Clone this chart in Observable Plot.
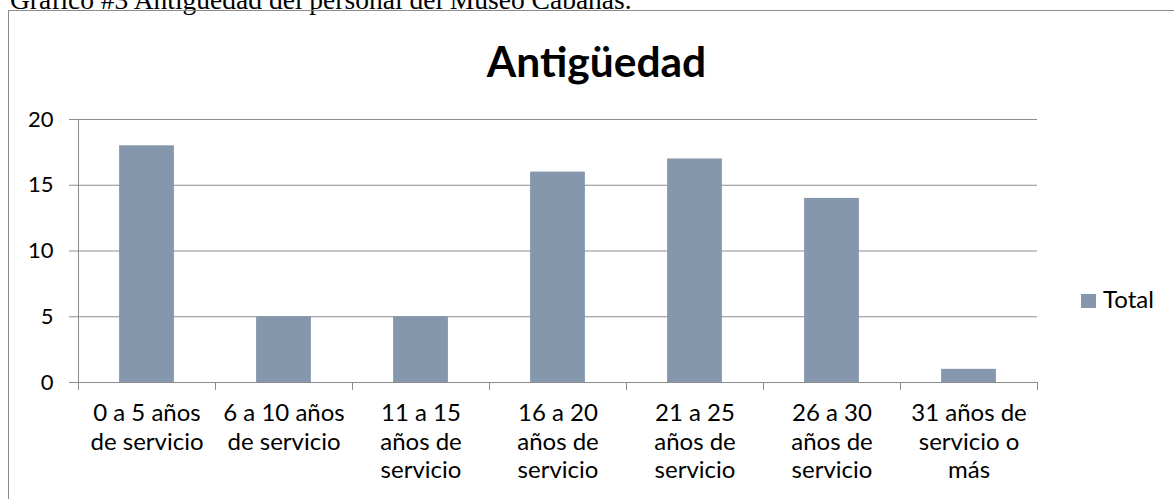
<!DOCTYPE html>
<html>
<head>
<meta charset="utf-8">
<script src="https://cdn.jsdelivr.net/npm/d3@7"></script>
<script src="https://cdn.jsdelivr.net/npm/@observablehq/plot@0.6"></script>
<style>
  html, body { margin: 0; padding: 0; background: #fff; }
  body { width: 1174px; height: 499px; overflow: hidden; position: relative; font-family: Lato, sans-serif; color: #000; }
  #caption { position: absolute; left: 10px; top: -14px; font: 27.5px "Liberation Serif", serif; white-space: nowrap; line-height: 1; }
  #box { position: absolute; left: 8px; top: 10px; width: 1200px; height: 520px; border: 1px solid #8c8c8c; box-sizing: border-box; }
  #title { position: absolute; left: 0; width: 1193px; top: 40px; text-align: center; font: bold 42.5px Lato, sans-serif; line-height: 1; }
  #chart { position: absolute; left: 0; top: 100px; }
  #legend { position: absolute; left: 1081px; top: 287px; font: 24px Lato, sans-serif; line-height: 1; white-space: nowrap; }
  #legend .sw { display: inline-block; width: 15px; height: 14px; margin-right: 7px; vertical-align: 0px; }
</style>
</head>
<body>
<div id="caption">Gráfico #3 Antigüedad del personal del Museo Cabañas.</div>
<div id="box"></div>
<div id="title"></div>
<div id="chart"></div>
<div id="legend"></div>
<script>
const chartTitle = "Antigüedad";
const seriesName = "Total";
const categories = [
  "0 a 5 años\nde servicio",
  "6 a 10 años\nde servicio",
  "11 a 15\naños de\nservicio",
  "16 a 20\naños de\nservicio",
  "21 a 25\naños de\nservicio",
  "26 a 30\naños de\nservicio",
  "31 años de\nservicio o\nmás"
];
const values = [18, 5, 5, 16, 17, 14, 1];
const yTicks = [0, 5, 10, 15, 20];
const barColor = "#8497ad";
const gridColor = "#8c8c8c";

const data = categories.map((c, i) => ({ idx: i, label: c, value: values[i] }));
const bounds = d3.range(0, categories.length + 1);

document.getElementById("title").textContent = chartTitle;
const leg = document.getElementById("legend");
leg.innerHTML = `<span class="sw" style="background:${barColor}"></span>${seriesName}`;

const plot = Plot.plot({
  width: 1174,
  height: 399,
  marginLeft: 78,
  marginRight: 137,
  marginTop: 19,
  marginBottom: 117,
  style: { fontFamily: "Lato, sans-serif", fontSize: "22px", color: "#000", background: "transparent", overflow: "visible" },
  x: { type: "linear", domain: [0, categories.length], axis: null },
  y: { domain: [0, 20], axis: null },
  marks: [
    Plot.gridY(yTicks, { stroke: gridColor, strokeOpacity: 1, strokeWidth: 1 }),
    Plot.axisY({ ticks: yTicks, label: null, tickSize: 9, tickPadding: 16, stroke: gridColor, strokeOpacity: 1, fontSize: 22, fill: "#000" }),
    Plot.axisX({ ticks: bounds, label: null, tickFormat: () => "", tickSize: 8, stroke: gridColor, strokeOpacity: 1 }),
    Plot.ruleX([0], { y1: 0, y2: 20, stroke: gridColor }),
    Plot.rectY(data, { x1: d => d.idx + 0.3, x2: d => d.idx + 0.7, y1: 0, y2: "value", fill: barColor }),
    Plot.text(data, { x: d => d.idx + 0.5, y: 0, text: "label", lineAnchor: "top", dy: 19, lineHeight: 1.17, fontSize: 24, fill: "#000" })
  ]
});
document.getElementById("chart").appendChild(plot);
</script>
</body>
</html>
